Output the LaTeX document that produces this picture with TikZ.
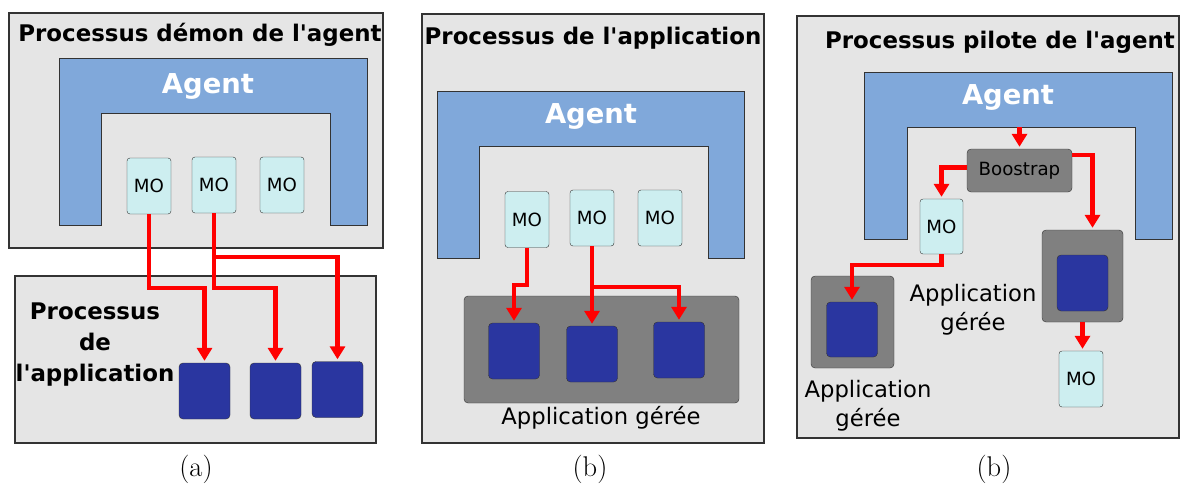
\documentclass[tikz,border=0pt]{standalone}
\usepackage{fontspec}
\usepackage{tikz}
\usetikzlibrary{arrows.meta}
\newfontfamily\dejavu{DejaVu Sans}
\definecolor{fond}{HTML}{E5E5E5}
\definecolor{agentbleu}{HTML}{80A8DA}
\definecolor{mocyan}{HTML}{CDEEF0}
\definecolor{marine}{HTML}{2A36A0}
\definecolor{gris}{HTML}{808080}
\tikzstyle{proc}=[draw=black!80, fill=fond, line width=1.2pt]
\tikzstyle{agent}=[draw=black!80, fill=agentbleu, line width=1pt]
\tikzstyle{mo}=[rectangle, rounded corners=3pt, draw=black!80, fill=mocyan, minimum width=44pt, minimum height=56pt, inner sep=0pt, font=\dejavu\fontsize{18.2}{20}\selectfont]
\tikzstyle{carre}=[rectangle, rounded corners=4pt, draw=black!80, fill=marine, minimum width=51pt, minimum height=56pt, inner sep=0pt]
\tikzstyle{appli}=[rectangle, rounded corners=4pt, draw=black!80, fill=gris, inner sep=0pt]
\tikzstyle{titre}=[font=\dejavu\bfseries\fontsize{22.9}{31}\selectfont, align=center, inner sep=0pt]
\tikzstyle{nom}=[text=white, inner sep=0pt, font=\dejavu\bfseries\fontsize{27.4}{30}\selectfont]
\tikzstyle{texte}=[font=\dejavu\fontsize{22.7}{29}\selectfont, align=center, inner sep=0pt]
\tikzstyle{fl}=[draw=red, line width=4.5pt, -{Triangle[width=15pt,length=13pt]}, shorten >=2pt]
\tikzstyle{legende}=[inner sep=0pt, font=\fontsize{28.5}{32}\selectfont]

\begin{document}
\begin{tikzpicture}[x=1pt, y=-1pt]
  \useasboundingbox (0,0) rectangle (1180,485);
  % (a)
  \filldraw[proc] (9,13) rectangle (383,248);
  \node[titre] (ta) at (200,35) {Processus démon de l'agent};
  \filldraw[agent] (59,58) -- (367,58) -- (367,225) -- (330,225) -- (330,113) -- (101,113) -- (101,225) -- (59,225) -- cycle;
  \node[nom] (aga) at (208,86) {Agent};
  \node[mo] (moa1) at (149,186) {MO};
  \node[mo] (moa2) at (214,185) {MO};
  \node[mo] (moa3) at (282,185) {MO};
  \filldraw[proc] (15,276) rectangle (376,443);
  \node[titre] (tapp) at (95,345) {Processus\\de\\l'application};
  \node[carre] (sa1) at (204.5,391) {};
  \node[carre] (sa2) at (275.5,391) {};
  \node[carre] (sa3) at (337.5,389.5) {};
  \draw[fl] (moa1.south) -- (moa1.south |- 0,288) -| (sa1.north);
  \draw[fl] (moa2.south) -- (moa2.south |- 0,288) -| (sa2.north);
  \coordinate (ba) at (moa2.south |- 0,257);
  \draw[fl] (ba) -| (sa3.north);
  \node[legende] (la) at (196,469) {(a)};
  % (b)
  \filldraw[proc] (422,14) rectangle (764,443);
  \node[titre] (tb) at (593,38) {Processus de l'application};
  \filldraw[agent] (437,91) -- (744,91) -- (744,258) -- (708,258) -- (708,146) -- (479,146) -- (479,258) -- (437,258) -- cycle;
  \node[nom] (agb) at (591,116) {Agent};
  \node[mo] (mob1) at (527,219.5) {MO};
  \node[mo] (mob2) at (592,218) {MO};
  \node[mo] (mob3) at (660,218) {MO};
  \node[appli, minimum width=275pt, minimum height=107pt] (appb) at (601.5,349.5) {};
  \node[texte] (tappb) at (601,418) {Application gérée};
  \node[carre] (sb1) at (514,351) {};
  \node[carre] (sb2) at (592,354) {};
  \node[carre] (sb3) at (679,350) {};
  \draw[fl] (mob1.south) -- (mob1.south |- 0,285) -| (sb1.north);
  \draw[fl] (mob2.south) -- (sb2.north);
  \coordinate (bb) at (mob2.south |- 0,287);
  \draw[fl] (bb) -| (sb3.north);
  \node[legende] (lb) at (590,469) {(b)};
  % (b) pilote
  \filldraw[proc] (797,16) rectangle (1179,438);
  \node[titre] (tc) at (1000,42) {Processus pilote de l'agent};
  \filldraw[agent] (864,72) -- (1172,72) -- (1172,239) -- (1135,239) -- (1135,127) -- (907,127) -- (907,239) -- (864,239) -- cycle;
  \node[nom] (agc) at (1008,97) {Agent};
  \node[appli, minimum width=105pt, minimum height=43pt, font=\dejavu\fontsize{18.2}{20}\selectfont] (boot) at (1019.5,170.5) {Boostrap};
  \node[mo, minimum width=43pt, minimum height=55pt] (moc1) at (941.5,226.5) {MO};
  \node[appli, minimum width=83pt, minimum height=92pt] (appc1) at (852.5,322) {};
  \node[carre, minimum height=55pt] (sc1) at (852,329.5) {};
  \node[texte] (tappc1) at (868,406) {Application\\gérée};
  \node[appli, minimum width=81pt, minimum height=92pt] (appc2) at (1082.5,276) {};
  \node[carre] (sc2) at (1082.5,283) {};
  \node[texte] (tappc2) at (973,310) {Application\\gérée};
  \node[mo] (moc2) at (1081,379) {MO};
  \coordinate (dep) at (boot.north |- 0,127);
  \draw[fl] (dep) -- (boot.north);
  \draw[fl] ([yshift=3pt]boot.west) -| (moc1.north);
  \draw[fl] ([yshift=-6pt]boot.north east) -| ([xshift=10pt]appc2.north);
  \draw[fl] (moc1.south) -- (moc1.south |- 0,265) -| (sc1.north);
  \draw[fl] (appc2.south) -- (appc2.south |- moc2.north);
  \node[legende] (lc) at (994,469) {(b)};
\end{tikzpicture}
\end{document}
